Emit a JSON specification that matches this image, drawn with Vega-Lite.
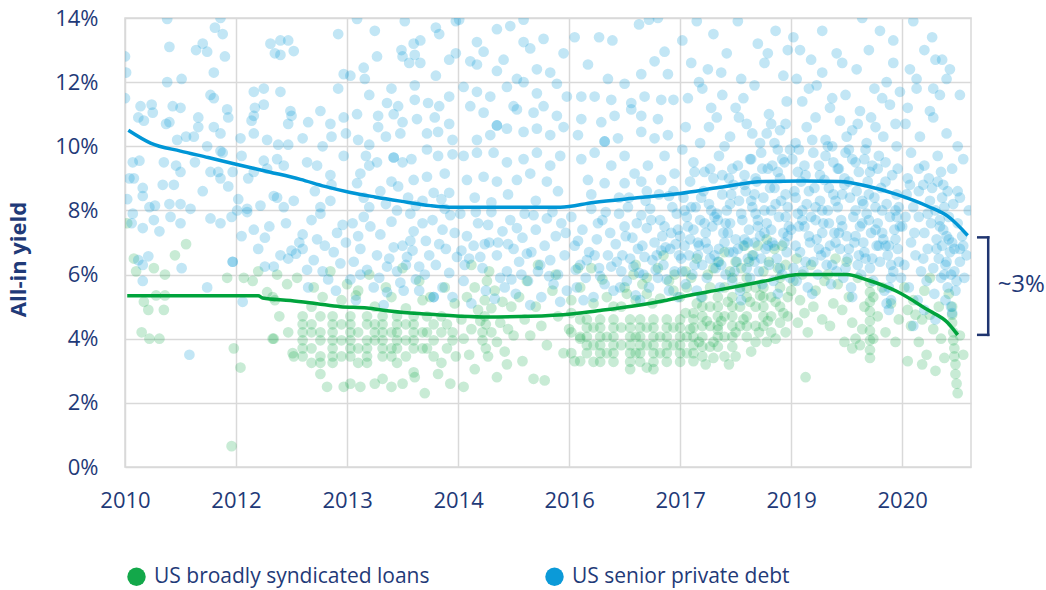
{
"$schema":"https://vega.github.io/schema/vega-lite/v6.json",
"width":846,"height":449,
"autosize":{"type":"none"},
"padding":{"left":125,"top":18,"right":75,"bottom":123},
"background":"white",
"config":{
"view":{"stroke":"#d9d9d9","strokeWidth":1.5},
"font":"Open Sans",
"axis":{"labelFont":"Open Sans","labelFontSize":22,"labelColor":"#1f3a78","domain":false,"ticks":false,"tickSize":0,"gridColor":"#d9d9d9","gridWidth":1.5,"labelFlush":false,"labelOverlap":false,"titleColor":"#1f3a78","titleFont":"Open Sans"},
"legend":{"labelFont":"Open Sans","labelFontSize":21,"labelColor":"#1f3a78","labelLimit":0,"symbolType":"circle","symbolSize":340,"symbolOpacity":1,"symbolStrokeWidth":0,"orient":"none","legendX":1,"legendY":548,"direction":"horizontal","columns":2,"columnPadding":114,"labelOffset":7,"title":null}
},
"datasets":{
"blue":[
{"t":0.01,"y":12.3},{"t":0,"y":11.5},{"t":0.14,"y":11.25},{"t":0.24,"y":11.3},{"t":0.12,"y":10.9},{"t":0.17,"y":10.8},{"t":0.25,"y":11.05},{"t":0.43,"y":11.25},{"t":0.38,"y":13.97},{"t":0.4,"y":13.1},{"t":0.38,"y":12.0},{"t":0.4,"y":10.75},{"t":0.37,"y":10.7},{"t":0.47,"y":10.2},{"t":0.07,"y":9.5},{"t":0.13,"y":9.55},{"t":0.08,"y":9.0},{"t":0.04,"y":9.0},{"t":0.35,"y":9.5},{"t":0.46,"y":9.4},{"t":0.16,"y":8.7},{"t":0.34,"y":8.8},{"t":0.44,"y":8.8},{"t":0.02,"y":8.35},{"t":0.16,"y":8.45},{"t":0.22,"y":8.1},{"t":0.27,"y":8.15},{"t":0.4,"y":8.2},{"t":0.07,"y":7.9},{"t":0.06,"y":7.6},{"t":0.26,"y":7.7},{"t":0.41,"y":7.8},{"t":0.16,"y":7.45},{"t":0.31,"y":7.35},{"t":0.16,"y":6.3},{"t":0.21,"y":6.57},{"t":0.12,"y":6.45},{"t":0.16,"y":5.8},{"t":0.0,"y":12.8},
{"t":0.86,"y":14.0},{"t":0.7,"y":13.2},{"t":0.81,"y":13.7},{"t":0.88,"y":13.5},{"t":0.64,"y":13.0},{"t":0.74,"y":12.95},{"t":0.9,"y":12.8},{"t":0.8,"y":12.3},{"t":0.51,"y":12.1},{"t":0.5,"y":11.2},{"t":0.66,"y":10.9},{"t":0.77,"y":11.6},{"t":0.8,"y":11.5},{"t":0.92,"y":11.15},{"t":0.93,"y":10.9},{"t":0.66,"y":10.6},{"t":0.8,"y":10.6},{"t":0.86,"y":10.4},{"t":0.55,"y":10.3},{"t":0.62,"y":10.3},{"t":0.74,"y":10.0},{"t":0.86,"y":9.85},{"t":0.88,"y":9.8},{"t":0.5,"y":9.2},{"t":0.63,"y":9.5},{"t":0.77,"y":9.2},{"t":0.86,"y":9.0},{"t":0.84,"y":9.2},{"t":0.97,"y":9.2},{"t":0.7,"y":8.6},{"t":0.93,"y":8.75},{"t":0.5,"y":8.2},{"t":0.59,"y":8.05},{"t":0.5,"y":7.6},{"t":0.77,"y":7.75},{"t":0.86,"y":7.6},{"t":0.96,"y":7.8},{"t":0.51,"y":6.2},{"t":0.74,"y":5.6},{"t":0.97,"y":6.4},{"t":0.97,"y":6.4},{"t":0.58,"y":3.5},
{"t":1.31,"y":13.2},{"t":1.4,"y":13.3},{"t":1.47,"y":13.3},{"t":1.52,"y":12.97},{"t":1.35,"y":12.9},{"t":1.4,"y":12.85},{"t":1.92,"y":13.5},{"t":1.97,"y":12.25},{"t":1.92,"y":11.8},{"t":1.16,"y":11.7},{"t":1.25,"y":11.8},{"t":1.4,"y":11.7},{"t":1.17,"y":11.2},{"t":1.25,"y":11.3},{"t":1.49,"y":11.1},{"t":1.5,"y":10.95},{"t":1.47,"y":10.7},{"t":1.16,"y":10.95},{"t":1.14,"y":10.8},{"t":1.65,"y":10.75},{"t":1.76,"y":11.1},{"t":1.85,"y":10.7},{"t":1.97,"y":10.9},{"t":1.16,"y":10.4},{"t":1.04,"y":10.25},{"t":1.28,"y":10.2},{"t":1.6,"y":10.25},{"t":1.38,"y":10.05},{"t":1.47,"y":10.05},{"t":1.78,"y":10.0},{"t":1.86,"y":10.3},{"t":1.99,"y":10.4},{"t":1.05,"y":9.7},{"t":1.25,"y":9.55},{"t":1.37,"y":9.6},{"t":1.64,"y":9.5},{"t":1.73,"y":9.4},{"t":1.85,"y":9.1},{"t":1.97,"y":9.7},{"t":1.16,"y":9.2},{"t":1.11,"y":9.0},{"t":1.28,"y":9.3},{"t":1.43,"y":9.4},{"t":1.71,"y":8.6},{"t":1.86,"y":8.8},
{"t":1.01,"y":8.0},{"t":1.1,"y":7.95},{"t":1.22,"y":8.15},{"t":1.05,"y":7.2},{"t":1.16,"y":7.4},{"t":1.26,"y":7.15},{"t":1.37,"y":8.4},{"t":1.34,"y":6.25},{"t":1.47,"y":6.5},{"t":1.54,"y":6.65},{"t":1.6,"y":7.25},{"t":1.73,"y":7.1},{"t":1.76,"y":7.9},{"t":1.91,"y":7.3},{"t":1.96,"y":7.55},{"t":1.64,"y":6.15},{"t":1.7,"y":6.45},{"t":1.83,"y":5.85},{"t":1.94,"y":6.35},{"t":1.06,"y":5.15},{"t":1.26,"y":6.25},{"t":1.4,"y":6.6},{"t":1.5,"y":6.75},{"t":1.6,"y":6.8},{"t":1.02,"y":8.35},{"t":1.1,"y":8.05},{"t":1.34,"y":8.45},{"t":1.43,"y":8.1},{"t":1.52,"y":8.3},{"t":1.76,"y":8.1},{"t":1.45,"y":7.6},{"t":1.57,"y":7.0},{"t":1.68,"y":7.7},{"t":1.8,"y":6.9},{"t":1.88,"y":6.7},{"t":1.99,"y":7.0},{"t":1.85,"y":8.3},{"t":1.3,"y":7.5},{"t":1.2,"y":6.8},{"t":1.65,"y":5.6},{"t":1.9,"y":5.5},{"t":1.78,"y":6.1},
{"t":2.09,"y":13.97},{"t":2.25,"y":13.6},{"t":2.52,"y":13.9},{"t":2.8,"y":13.7},{"t":2.83,"y":13.5},{"t":2.98,"y":13.9},{"t":2.15,"y":12.45},{"t":2.27,"y":12.8},{"t":2.49,"y":13.0},{"t":2.6,"y":13.2},{"t":2.66,"y":13.3},{"t":2.61,"y":12.85},{"t":2.66,"y":12.6},{"t":2.5,"y":12.8},{"t":2.56,"y":12.6},{"t":2.03,"y":12.2},{"t":2.16,"y":12.1},{"t":2.4,"y":11.8},{"t":2.61,"y":11.9},{"t":2.8,"y":12.2},{"t":2.92,"y":12.7},{"t":2.98,"y":12.9},{"t":2.2,"y":11.6},{"t":2.36,"y":11.35},{"t":2.46,"y":11.25},{"t":2.61,"y":11.45},{"t":2.73,"y":11.35},{"t":2.83,"y":11.25},{"t":2.92,"y":11.55},{"t":2.09,"y":11.0},{"t":2.28,"y":10.95},{"t":2.42,"y":11.0},{"t":2.5,"y":10.75},{"t":2.63,"y":10.85},{"t":2.79,"y":10.9},{"t":2.92,"y":10.7},{"t":2.28,"y":10.6},{"t":2.35,"y":10.3},{"t":2.48,"y":10.4},{"t":2.72,"y":10.4},{"t":2.82,"y":10.45},{"t":2.95,"y":10.2},{"t":2.1,"y":10.2},{"t":2.2,"y":10.05},{"t":2.42,"y":9.65},{"t":2.42,"y":9.65},{"t":2.17,"y":9.7},{"t":2.27,"y":9.5},{"t":2.5,"y":9.5},{"t":2.58,"y":9.6},{"t":2.72,"y":9.9},{"t":2.82,"y":9.7},{"t":2.95,"y":9.75},{"t":2.12,"y":9.15},{"t":2.2,"y":9.4},{"t":2.4,"y":8.9},{"t":2.46,"y":8.75},{"t":2.6,"y":8.95},{"t":2.72,"y":9.05},{"t":2.88,"y":9.15},{"t":2.09,"y":8.85},{"t":2.78,"y":8.55},{"t":2.92,"y":8.55},{"t":2.3,"y":8.6},{"t":2.55,"y":8.4},{"t":2.68,"y":8.3},{"t":2.15,"y":8.4},{"t":2.35,"y":8.2},{"t":2.62,"y":8.15},{"t":2.85,"y":8.35},
{"t":2.03,"y":5.85},{"t":2.06,"y":6.4},{"t":2.12,"y":6.8},{"t":2.21,"y":7.5},{"t":2.27,"y":6.6},{"t":2.36,"y":6.25},{"t":2.45,"y":6.1},{"t":2.54,"y":6.55},{"t":2.57,"y":7.05},{"t":2.51,"y":5.5},{"t":2.36,"y":5.45},{"t":2.29,"y":5.9},{"t":2.57,"y":7.9},{"t":2.68,"y":7.6},{"t":2.77,"y":7.7},{"t":2.86,"y":7.4},{"t":2.5,"y":6.9},{"t":2.59,"y":6.75},{"t":2.74,"y":6.6},{"t":2.89,"y":6.8},{"t":2.53,"y":6.3},{"t":2.65,"y":6.25},{"t":2.8,"y":6.3},{"t":2.92,"y":6.05},{"t":2.78,"y":5.3},{"t":2.78,"y":5.3},{"t":2.65,"y":5.5},{"t":2.86,"y":5.6},{"t":2.95,"y":5.3},{"t":2.1,"y":7.2},{"t":2.15,"y":7.8},{"t":2.3,"y":7.25},{"t":2.4,"y":7.65},{"t":2.42,"y":6.85},{"t":2.18,"y":6.15},{"t":2.24,"y":5.6},{"t":2.62,"y":5.85},{"t":2.71,"y":7.05},{"t":2.83,"y":6.95},{"t":2.97,"y":7.3},{"t":2.93,"y":7.85},{"t":2.08,"y":5.2},{"t":2.33,"y":5.05},{"t":2.48,"y":5.75},{"t":2.12,"y":6.0},{"t":2.6,"y":7.35},{"t":2.7,"y":6.0},{"t":2.99,"y":6.55},{"t":2.45,"y":8.0},{"t":2.2,"y":8.1},{"t":2.88,"y":8.05},{"t":2.05,"y":7.6},{"t":2.38,"y":6.5},
{"t":3.01,"y":13.95},{"t":3.17,"y":13.25},{"t":3.23,"y":12.95},{"t":3.35,"y":13.65},{"t":3.47,"y":13.75},{"t":3.59,"y":13.95},{"t":3.59,"y":13.25},{"t":3.65,"y":13.05},{"t":3.77,"y":13.35},{"t":3.11,"y":12.65},{"t":3.17,"y":12.55},{"t":3.35,"y":12.35},{"t":3.41,"y":12.7},{"t":3.53,"y":12.1},{"t":3.71,"y":12.4},{"t":3.83,"y":12.3},{"t":3.95,"y":12.9},{"t":3.05,"y":11.85},{"t":3.17,"y":11.7},{"t":3.29,"y":11.55},{"t":3.44,"y":11.85},{"t":3.59,"y":12.0},{"t":3.71,"y":11.65},{"t":3.89,"y":11.95},{"t":3.98,"y":11.55},{"t":3.11,"y":11.25},{"t":3.23,"y":11.05},{"t":3.35,"y":10.65},{"t":3.35,"y":10.65},{"t":3.5,"y":11.25},{"t":3.53,"y":11.15},{"t":3.68,"y":11.05},{"t":3.77,"y":11.25},{"t":3.89,"y":10.95},{"t":3.17,"y":10.2},{"t":3.29,"y":10.35},{"t":3.44,"y":10.55},{"t":3.59,"y":10.45},{"t":3.71,"y":10.55},{"t":3.83,"y":10.35},{"t":3.95,"y":10.6},{"t":3.05,"y":9.7},{"t":3.17,"y":9.8},{"t":3.32,"y":9.8},{"t":3.44,"y":9.5},{"t":3.59,"y":9.6},{"t":3.71,"y":9.8},{"t":3.83,"y":9.4},{"t":3.92,"y":9.7},{"t":3.08,"y":8.95},{"t":3.23,"y":9.05},{"t":3.35,"y":8.9},{"t":3.53,"y":8.95},{"t":3.65,"y":9.15},{"t":3.8,"y":8.9},{"t":3.15,"y":8.4},{"t":3.45,"y":8.5},{"t":3.7,"y":8.3},{"t":3.9,"y":8.6},{"t":3.3,"y":8.25},
{"t":3.02,"y":7.9},{"t":3.08,"y":7.2},{"t":3.1,"y":6.5},{"t":3.05,"y":5.8},{"t":3.14,"y":6.9},{"t":3.18,"y":7.6},{"t":3.22,"y":6.2},{"t":3.25,"y":5.5},{"t":3.28,"y":7.0},{"t":3.3,"y":7.95},{"t":3.35,"y":6.6},{"t":3.38,"y":5.9},{"t":3.4,"y":7.35},{"t":3.44,"y":6.1},{"t":3.47,"y":7.7},{"t":3.5,"y":6.8},{"t":3.52,"y":5.4},{"t":3.55,"y":6.4},{"t":3.58,"y":7.15},{"t":3.6,"y":7.9},{"t":3.63,"y":5.8},{"t":3.66,"y":6.7},{"t":3.7,"y":7.4},{"t":3.72,"y":6.1},{"t":3.75,"y":5.3},{"t":3.78,"y":6.9},{"t":3.8,"y":7.75},{"t":3.83,"y":6.45},{"t":3.86,"y":5.7},{"t":3.88,"y":7.2},{"t":3.9,"y":6.0},{"t":3.93,"y":7.6},{"t":3.96,"y":6.6},{"t":3.98,"y":5.5},{"t":3.12,"y":5.1},{"t":3.33,"y":5.25},{"t":3.2,"y":6.55},{"t":3.45,"y":6.95},{"t":3.57,"y":6.0},{"t":3.68,"y":7.85},{"t":3.03,"y":6.75},{"t":3.27,"y":7.55},{"t":3.42,"y":5.6},{"t":3.62,"y":6.65},{"t":3.85,"y":7.95},{"t":3.92,"y":5.15},{"t":3.16,"y":7.95},{"t":3.36,"y":7.0},{"t":3.53,"y":7.45},{"t":3.74,"y":6.3},{"t":3.06,"y":6.3},{"t":3.24,"y":6.95},{"t":3.48,"y":5.85},{"t":3.65,"y":5.05},{"t":3.82,"y":5.95},{"t":3.97,"y":7.3},
{"t":4.05,"y":13.4},{"t":4.27,"y":13.4},{"t":4.39,"y":13.3},{"t":4.63,"y":13.8},{"t":4.72,"y":13.95},{"t":4.8,"y":14.0},{"t":4.17,"y":12.55},{"t":4.35,"y":12.1},{"t":4.5,"y":11.95},{"t":4.65,"y":12.25},{"t":4.77,"y":12.65},{"t":4.86,"y":12.95},{"t":4.89,"y":12.25},{"t":4.11,"y":11.55},{"t":4.23,"y":11.55},{"t":4.38,"y":11.45},{"t":4.56,"y":11.35},{"t":4.68,"y":11.55},{"t":4.83,"y":11.45},{"t":4.94,"y":11.45},{"t":4.11,"y":10.85},{"t":4.29,"y":10.75},{"t":4.41,"y":10.95},{"t":4.56,"y":11.15},{"t":4.65,"y":10.95},{"t":4.8,"y":10.85},{"t":4.08,"y":10.35},{"t":4.32,"y":10.15},{"t":4.32,"y":10.15},{"t":4.44,"y":10.25},{"t":4.65,"y":10.45},{"t":4.77,"y":10.25},{"t":4.89,"y":10.35},{"t":4.11,"y":9.6},{"t":4.23,"y":9.8},{"t":4.38,"y":9.4},{"t":4.5,"y":9.7},{"t":4.59,"y":9.15},{"t":4.71,"y":9.4},{"t":4.86,"y":9.7},{"t":4.95,"y":9.15},{"t":4.17,"y":8.95},{"t":4.32,"y":8.85},{"t":4.5,"y":8.85},{"t":4.65,"y":8.9},{"t":4.83,"y":8.95},{"t":4.2,"y":8.5},{"t":4.45,"y":8.4},{"t":4.7,"y":8.6},{"t":4.9,"y":8.45},
{"t":4.02,"y":7.8},{"t":4.05,"y":6.9},{"t":4.07,"y":5.6},{"t":4.1,"y":6.3},{"t":4.12,"y":7.4},{"t":4.15,"y":5.9},{"t":4.18,"y":6.7},{"t":4.2,"y":8.05},{"t":4.22,"y":5.3},{"t":4.25,"y":7.1},{"t":4.27,"y":6.2},{"t":4.3,"y":7.7},{"t":4.32,"y":5.7},{"t":4.35,"y":6.6},{"t":4.37,"y":7.3},{"t":4.4,"y":5.5},{"t":4.42,"y":6.95},{"t":4.45,"y":7.9},{"t":4.47,"y":6.1},{"t":4.5,"y":7.5},{"t":4.52,"y":5.8},{"t":4.55,"y":6.5},{"t":4.57,"y":7.15},{"t":4.6,"y":5.35},{"t":4.62,"y":6.8},{"t":4.65,"y":7.85},{"t":4.67,"y":6.0},{"t":4.7,"y":7.45},{"t":4.72,"y":5.6},{"t":4.75,"y":6.45},{"t":4.77,"y":7.0},{"t":4.8,"y":5.9},{"t":4.82,"y":7.7},{"t":4.85,"y":6.3},{"t":4.87,"y":6.85},{"t":4.9,"y":5.5},{"t":4.92,"y":7.3},{"t":4.95,"y":6.1},{"t":4.97,"y":7.9},{"t":4.99,"y":6.6},{"t":4.08,"y":7.05},{"t":4.16,"y":6.45},{"t":4.28,"y":5.95},{"t":4.38,"y":6.25},{"t":4.48,"y":6.6},{"t":4.58,"y":6.25},{"t":4.68,"y":6.55},{"t":4.78,"y":6.15},{"t":4.88,"y":5.85},{"t":4.96,"y":6.95},{"t":4.13,"y":5.2},{"t":4.33,"y":7.95},{"t":4.53,"y":8.1},{"t":4.73,"y":8.05},{"t":4.93,"y":8.1},{"t":4.23,"y":6.6},{"t":4.43,"y":6.4},{"t":4.63,"y":6.05},{"t":4.83,"y":6.75},{"t":4.98,"y":5.3},{"t":4.06,"y":6.15},{"t":4.46,"y":5.6},{"t":4.86,"y":7.5},{"t":4.64,"y":5.2},{"t":4.26,"y":7.6},
{"t":4.51,"y":7.2},{"t":4.54,"y":8.4},{"t":4.61,"y":7.6},{"t":4.66,"y":6.9},{"t":4.69,"y":8.3},{"t":4.74,"y":7.7},{"t":4.79,"y":6.6},{"t":4.81,"y":8.5},{"t":4.84,"y":7.2},{"t":4.91,"y":6.8},{"t":4.94,"y":8.6},{"t":4.98,"y":7.4},
{"t":5.02,"y":13.3},{"t":5.1,"y":12.6},{"t":5.15,"y":13.9},{"t":5.2,"y":11.8},{"t":5.25,"y":12.4},{"t":5.3,"y":13.5},{"t":5.33,"y":10.9},{"t":5.38,"y":11.6},{"t":5.42,"y":12.9},{"t":5.45,"y":10.3},{"t":5.5,"y":11.2},{"t":5.52,"y":13.9},{"t":5.55,"y":12.1},{"t":5.6,"y":10.7},{"t":5.63,"y":9.6},{"t":5.67,"y":11.9},{"t":5.7,"y":13.2},{"t":5.72,"y":10.1},{"t":5.76,"y":12.6},{"t":5.8,"y":11.0},{"t":5.83,"y":9.4},{"t":5.86,"y":13.6},{"t":5.9,"y":10.5},{"t":5.93,"y":12.2},{"t":5.96,"y":11.4},{"t":5.99,"y":9.9},{"t":5.05,"y":10.6},{"t":5.12,"y":9.5},{"t":5.18,"y":10.1},{"t":5.22,"y":9.2},{"t":5.28,"y":11.2},{"t":5.35,"y":9.7},{"t":5.4,"y":10.0},{"t":5.47,"y":9.3},{"t":5.58,"y":9.1},{"t":5.65,"y":10.4},{"t":5.74,"y":9.3},{"t":5.78,"y":10.4},{"t":5.85,"y":10.1},{"t":5.88,"y":9.2},{"t":5.95,"y":10.7},{"t":5.07,"y":11.5},{"t":5.17,"y":12.0},{"t":5.37,"y":12.3},{"t":5.57,"y":11.5},{"t":5.79,"y":12.9},{"t":5.97,"y":13.0},{"t":5.44,"y":9.0},{"t":5.68,"y":9.0},{"t":5.92,"y":9.6},{"t":5.02,"y":9.9},{"t":5.26,"y":10.6},{"t":5.53,"y":10.9},{"t":5.82,"y":10.7},
{"t":5.0,"y":7.2},{"t":5.02,"y":6.1},{"t":5.03,"y":8.4},{"t":5.05,"y":5.7},{"t":5.06,"y":7.8},{"t":5.08,"y":6.6},{"t":5.09,"y":8.9},{"t":5.11,"y":6.0},{"t":5.12,"y":7.4},{"t":5.14,"y":8.1},{"t":5.15,"y":5.5},{"t":5.17,"y":6.9},{"t":5.18,"y":7.7},{"t":5.2,"y":6.3},{"t":5.21,"y":8.6},{"t":5.23,"y":7.0},{"t":5.24,"y":5.9},{"t":5.26,"y":8.2},{"t":5.27,"y":6.5},{"t":5.29,"y":7.5},{"t":5.3,"y":9.0},{"t":5.32,"y":6.2},{"t":5.33,"y":7.9},{"t":5.35,"y":6.8},{"t":5.36,"y":5.6},{"t":5.38,"y":8.5},{"t":5.39,"y":7.3},{"t":5.41,"y":6.0},{"t":5.42,"y":8.0},{"t":5.44,"y":6.7},{"t":5.45,"y":7.6},{"t":5.47,"y":5.8},{"t":5.48,"y":8.8},{"t":5.5,"y":7.1},{"t":5.51,"y":6.4},{"t":5.53,"y":8.3},{"t":5.54,"y":5.5},{"t":5.56,"y":7.7},{"t":5.57,"y":6.9},{"t":5.59,"y":8.6},{"t":5.6,"y":6.2},{"t":5.62,"y":7.4},{"t":5.63,"y":5.9},{"t":5.65,"y":8.1},{"t":5.66,"y":6.6},{"t":5.68,"y":7.9},{"t":5.69,"y":8.9},{"t":5.71,"y":6.1},{"t":5.72,"y":7.2},{"t":5.74,"y":5.7},{"t":5.75,"y":8.4},{"t":5.77,"y":6.8},{"t":5.78,"y":7.6},{"t":5.8,"y":6.3},{"t":5.81,"y":8.7},{"t":5.83,"y":7.0},{"t":5.84,"y":5.8},{"t":5.86,"y":8.2},{"t":5.87,"y":6.5},{"t":5.89,"y":7.8},{"t":5.9,"y":9.0},{"t":5.92,"y":6.0},{"t":5.93,"y":7.3},{"t":5.95,"y":8.5},{"t":5.96,"y":6.7},{"t":5.98,"y":7.5},{"t":5.99,"y":5.9},{"t":5.04,"y":6.9},{"t":5.13,"y":6.3},{"t":5.22,"y":7.6},{"t":5.31,"y":6.6},{"t":5.4,"y":7.0},{"t":5.49,"y":6.1},{"t":5.58,"y":7.1},{"t":5.67,"y":6.4},{"t":5.76,"y":7.3},{"t":5.85,"y":6.9},{"t":5.94,"y":7.0},{"t":5.1,"y":8.1},{"t":5.28,"y":8.0},{"t":5.46,"y":8.5},{"t":5.64,"y":8.3},{"t":5.82,"y":8.0},{"t":5.97,"y":8.1},{"t":5.19,"y":5.3},{"t":5.55,"y":5.2},{"t":5.88,"y":5.4},{"t":5.34,"y":7.7},{"t":5.52,"y":6.8},{"t":5.7,"y":7.7},{"t":5.9,"y":6.2},{"t":5.16,"y":7.0},{"t":5.43,"y":7.3},{"t":5.61,"y":6.5},{"t":5.79,"y":6.9},{"t":5.25,"y":6.8},{"t":5.73,"y":6.5},{"t":5.07,"y":7.5},{"t":5.37,"y":6.3},{"t":5.67,"y":7.0},{"t":5.95,"y":7.8},
{"t":5.01,"y":6.5},{"t":5.04,"y":8.0},{"t":5.09,"y":7.1},{"t":5.13,"y":9.2},{"t":5.16,"y":6.6},{"t":5.19,"y":8.4},{"t":5.23,"y":7.3},{"t":5.27,"y":9.3},{"t":5.31,"y":7.8},{"t":5.34,"y":6.4},{"t":5.38,"y":9.1},{"t":5.41,"y":7.6},{"t":5.45,"y":8.2},{"t":5.48,"y":6.7},{"t":5.52,"y":9.4},{"t":5.55,"y":7.9},{"t":5.58,"y":8.8},{"t":5.61,"y":7.0},{"t":5.64,"y":9.6},{"t":5.67,"y":8.5},{"t":5.7,"y":7.5},{"t":5.73,"y":9.8},{"t":5.76,"y":8.0},{"t":5.79,"y":9.3},{"t":5.82,"y":7.4},{"t":5.85,"y":8.7},{"t":5.88,"y":9.9},{"t":5.91,"y":8.3},{"t":5.94,"y":9.5},{"t":5.97,"y":7.2},
{"t":6.02,"y":13.4},{"t":6.05,"y":12.1},{"t":6.08,"y":13.0},{"t":6.1,"y":11.4},{"t":6.14,"y":10.6},{"t":6.18,"y":12.7},{"t":6.2,"y":9.8},{"t":6.23,"y":11.9},{"t":6.28,"y":13.6},{"t":6.28,"y":12.3},{"t":6.31,"y":10.2},{"t":6.35,"y":11.2},{"t":6.38,"y":9.5},{"t":6.41,"y":12.9},{"t":6.44,"y":10.8},{"t":6.46,"y":12.6},{"t":6.49,"y":11.6},{"t":6.52,"y":9.9},{"t":6.55,"y":10.5},{"t":6.59,"y":12.4},{"t":6.62,"y":11.1},{"t":6.64,"y":14.0},{"t":6.66,"y":9.6},{"t":6.7,"y":13.0},{"t":6.72,"y":10.9},{"t":6.75,"y":11.8},{"t":6.78,"y":9.3},{"t":6.8,"y":13.6},{"t":6.83,"y":10.3},{"t":6.86,"y":12.0},{"t":6.89,"y":11.3},{"t":6.92,"y":13.3},{"t":6.92,"y":12.6},{"t":6.95,"y":10.0},{"t":6.98,"y":11.7},{"t":6.04,"y":10.1},{"t":6.12,"y":9.4},{"t":6.22,"y":10.9},{"t":6.33,"y":10.0},{"t":6.42,"y":9.3},{"t":6.5,"y":10.3},{"t":6.58,"y":9.5},{"t":6.68,"y":10.1},{"t":6.76,"y":10.6},{"t":6.85,"y":9.5},{"t":6.96,"y":9.3},{"t":6.16,"y":11.8},{"t":6.26,"y":9.1},{"t":6.37,"y":11.5},{"t":6.48,"y":9.0},{"t":6.6,"y":10.7},{"t":6.71,"y":9.2},{"t":6.82,"y":11.5},{"t":6.94,"y":10.7},{"t":6.06,"y":9.2},
{"t":6.0,"y":7.4},{"t":6.02,"y":6.2},{"t":6.03,"y":8.6},{"t":6.05,"y":5.8},{"t":6.06,"y":7.9},{"t":6.08,"y":6.7},{"t":6.09,"y":8.9},{"t":6.11,"y":6.1},{"t":6.12,"y":7.5},{"t":6.14,"y":8.2},{"t":6.15,"y":5.6},{"t":6.17,"y":7.0},{"t":6.18,"y":7.8},{"t":6.2,"y":6.4},{"t":6.21,"y":8.7},{"t":6.23,"y":7.1},{"t":6.24,"y":6.0},{"t":6.26,"y":8.3},{"t":6.27,"y":6.6},{"t":6.29,"y":7.6},{"t":6.3,"y":8.95},{"t":6.32,"y":6.3},{"t":6.33,"y":8.0},{"t":6.35,"y":6.9},{"t":6.36,"y":5.7},{"t":6.38,"y":8.5},{"t":6.39,"y":7.3},{"t":6.41,"y":6.1},{"t":6.42,"y":8.1},{"t":6.44,"y":6.8},{"t":6.45,"y":7.7},{"t":6.47,"y":5.9},{"t":6.48,"y":8.8},{"t":6.5,"y":7.2},{"t":6.51,"y":6.5},{"t":6.53,"y":8.4},{"t":6.54,"y":5.6},{"t":6.56,"y":7.8},{"t":6.57,"y":7.0},{"t":6.59,"y":8.6},{"t":6.6,"y":6.3},{"t":6.62,"y":7.5},{"t":6.63,"y":6.0},{"t":6.65,"y":8.2},{"t":6.66,"y":6.7},{"t":6.68,"y":7.9},{"t":6.69,"y":8.9},{"t":6.71,"y":6.2},{"t":6.72,"y":7.3},{"t":6.74,"y":5.8},{"t":6.75,"y":8.4},{"t":6.77,"y":6.9},{"t":6.78,"y":7.6},{"t":6.8,"y":6.4},{"t":6.81,"y":8.7},{"t":6.83,"y":7.1},{"t":6.84,"y":5.5},{"t":6.86,"y":8.2},{"t":6.87,"y":6.6},{"t":6.89,"y":7.8},{"t":6.9,"y":5.2},{"t":6.92,"y":6.1},{"t":6.93,"y":7.4},{"t":6.95,"y":8.5},{"t":6.96,"y":6.8},{"t":6.98,"y":7.5},{"t":6.99,"y":5.9},{"t":6.04,"y":6.9},{"t":6.13,"y":6.4},{"t":6.22,"y":7.7},{"t":6.31,"y":6.7},{"t":6.4,"y":7.0},{"t":6.49,"y":6.2},{"t":6.58,"y":7.2},{"t":6.67,"y":6.5},{"t":6.76,"y":7.4},{"t":6.85,"y":6.9},{"t":6.94,"y":7.1},{"t":6.1,"y":8.0},{"t":6.28,"y":8.0},{"t":6.46,"y":8.5},{"t":6.64,"y":8.3},{"t":6.82,"y":8.0},{"t":6.97,"y":8.1},{"t":6.19,"y":5.4},{"t":6.55,"y":5.3},{"t":6.88,"y":4.9},{"t":6.34,"y":7.6},{"t":6.52,"y":6.8},{"t":6.7,"y":7.7},{"t":6.9,"y":6.3},{"t":6.16,"y":7.2},{"t":6.43,"y":7.3},{"t":6.61,"y":6.6},{"t":6.79,"y":6.9},{"t":6.25,"y":6.8},{"t":6.73,"y":6.5},{"t":6.07,"y":7.5},{"t":6.37,"y":6.3},{"t":6.65,"y":7.0},{"t":6.95,"y":7.8},{"t":6.88,"y":5.6},{"t":6.86,"y":5.1},{"t":6.9,"y":5.9},
{"t":6.01,"y":9.6},{"t":6.04,"y":8.4},{"t":6.07,"y":9.9},{"t":6.1,"y":7.7},{"t":6.13,"y":9.1},{"t":6.16,"y":8.6},{"t":6.19,"y":10.2},{"t":6.22,"y":8.1},{"t":6.25,"y":9.4},{"t":6.28,"y":7.3},{"t":6.31,"y":9.7},{"t":6.34,"y":8.7},{"t":6.37,"y":10.0},{"t":6.4,"y":8.3},{"t":6.43,"y":9.3},{"t":6.46,"y":7.5},{"t":6.49,"y":9.8},{"t":6.52,"y":8.9},{"t":6.55,"y":9.6},{"t":6.58,"y":8.0},{"t":6.61,"y":9.2},{"t":6.64,"y":7.6},{"t":6.67,"y":9.9},{"t":6.7,"y":8.5},{"t":6.73,"y":9.4},{"t":6.76,"y":8.1},{"t":6.79,"y":9.7},{"t":6.82,"y":7.3},{"t":6.85,"y":8.9},{"t":6.88,"y":6.9},{"t":6.91,"y":9.1},{"t":6.94,"y":8.0},{"t":6.97,"y":6.4},
{"t":7.1,"y":13.9},{"t":7.27,"y":13.4},{"t":7.3,"y":12.7},{"t":7.36,"y":12.7},{"t":7.43,"y":12.4},{"t":7.4,"y":12.1},{"t":7.52,"y":11.6},{"t":7.07,"y":12.4},{"t":7.13,"y":12.1},{"t":7.13,"y":11.8},{"t":7.28,"y":11.8},{"t":7.34,"y":11.6},{"t":7.25,"y":11.1},{"t":7.28,"y":10.9},{"t":7.4,"y":10.4},{"t":7.03,"y":10.7},{"t":7.08,"y":9.8},{"t":7.16,"y":10.3},{"t":7.2,"y":9.4},{"t":7.32,"y":9.7},{"t":7.45,"y":9.3},{"t":7.5,"y":10.0},{"t":7.55,"y":9.6},{"t":7.2,"y":13.0},{"t":7.05,"y":11.2},
{"t":7.0,"y":7.5},{"t":7.02,"y":6.3},{"t":7.04,"y":8.5},{"t":7.06,"y":5.6},{"t":7.08,"y":7.0},{"t":7.1,"y":8.1},{"t":7.12,"y":6.6},{"t":7.14,"y":5.2},{"t":7.15,"y":7.8},{"t":7.17,"y":6.1},{"t":7.19,"y":8.8},{"t":7.2,"y":7.3},{"t":7.22,"y":5.8},{"t":7.23,"y":6.8},{"t":7.25,"y":8.3},{"t":7.26,"y":7.6},{"t":7.28,"y":6.2},{"t":7.29,"y":5.4},{"t":7.3,"y":8.0},{"t":7.31,"y":7.1},{"t":7.32,"y":8.9},{"t":7.33,"y":6.5},{"t":7.34,"y":7.7},{"t":7.35,"y":5.9},{"t":7.36,"y":8.4},{"t":7.36,"y":6.9},{"t":7.37,"y":7.4},{"t":7.38,"y":6.0},{"t":7.38,"y":8.1},{"t":7.39,"y":5.2},{"t":7.4,"y":7.2},{"t":7.4,"y":6.4},{"t":7.41,"y":8.6},{"t":7.41,"y":5.6},{"t":7.42,"y":7.8},{"t":7.43,"y":6.7},{"t":7.44,"y":5.0},{"t":7.45,"y":7.0},{"t":7.46,"y":8.2},{"t":7.47,"y":6.1},{"t":7.48,"y":5.5},{"t":7.49,"y":5.8},{"t":7.5,"y":7.6},{"t":7.52,"y":6.8},{"t":7.52,"y":6.4},{"t":7.52,"y":8.4},{"t":7.54,"y":7.2},{"t":7.56,"y":5.9},{"t":7.58,"y":6.6},{"t":7.6,"y":8.0},{"t":7.3,"y":4.6},{"t":7.2,"y":4.9},{"t":7.1,"y":4.4},{"t":7.45,"y":4.8},{"t":7.05,"y":9.0},{"t":7.15,"y":8.6},{"t":7.24,"y":9.0},{"t":7.35,"y":9.2},
{"t":7.03,"y":7.8},{"t":7.07,"y":8.8},{"t":7.11,"y":7.3},{"t":7.15,"y":9.3},{"t":7.19,"y":6.5},{"t":7.23,"y":7.9},{"t":7.27,"y":8.7},{"t":7.31,"y":6.8},{"t":7.34,"y":7.5},{"t":7.37,"y":8.8},{"t":7.39,"y":6.3},{"t":7.42,"y":7.1},{"t":7.44,"y":6.0},{"t":7.47,"y":6.8},{"t":7.5,"y":8.6},{"t":7.55,"y":6.9}
],
"green":[
{"t":0.08,"y":6.5},{"t":0.1,"y":6.1},{"t":0.26,"y":6.2},{"t":0.36,"y":6.0},{"t":0.35,"y":4.9},{"t":0.21,"y":4.9},{"t":0.28,"y":5.35},{"t":0.36,"y":5.35},{"t":0.17,"y":5.15},{"t":0.15,"y":4.2},{"t":0.22,"y":4.0},{"t":0.31,"y":4.0},{"t":0.98,"y":3.7},{"t":1.04,"y":3.1},{"t":0.96,"y":0.65},{"t":0.92,"y":5.9},{"t":1.07,"y":5.9},{"t":1.15,"y":5.8},{"t":1.35,"y":5.2},{"t":1.34,"y":4.0},{"t":1.39,"y":4.7},{"t":1.47,"y":4.2},{"t":1.52,"y":3.45},{"t":0.45,"y":6.6},{"t":1.2,"y":6.1},{"t":1.28,"y":5.45},{"t":0.02,"y":7.6},{"t":0.55,"y":6.95},
{"t":1.6,"y":4.7},{"t":1.6,"y":4.45},{"t":1.6,"y":4.2},{"t":1.6,"y":3.95},{"t":1.6,"y":3.7},{"t":1.6,"y":3.45},{"t":1.68,"y":4.45},{"t":1.68,"y":4.2},{"t":1.68,"y":3.7},{"t":1.68,"y":3.25},{"t":1.68,"y":5.0},{"t":1.76,"y":4.7},{"t":1.76,"y":4.2},{"t":1.76,"y":3.95},{"t":1.76,"y":3.45},{"t":1.76,"y":3.25},{"t":1.76,"y":2.9},{"t":1.87,"y":4.7},{"t":1.87,"y":4.45},{"t":1.87,"y":4.2},{"t":1.87,"y":3.95},{"t":1.87,"y":3.7},{"t":1.87,"y":3.45},{"t":1.87,"y":3.25},{"t":1.95,"y":4.45},{"t":1.95,"y":3.95},{"t":1.95,"y":3.45},{"t":1.95,"y":5.2},{"t":2.03,"y":4.7},{"t":2.03,"y":4.45},{"t":2.03,"y":4.2},{"t":2.03,"y":3.95},{"t":2.03,"y":3.7},{"t":2.03,"y":3.45},{"t":2.03,"y":2.6},{"t":2.1,"y":4.2},{"t":2.1,"y":3.7},{"t":2.1,"y":3.25},{"t":2.1,"y":5.5},{"t":2.18,"y":4.7},{"t":2.18,"y":4.45},{"t":2.18,"y":3.95},{"t":2.18,"y":3.7},{"t":2.18,"y":3.45},{"t":2.18,"y":3.25},{"t":2.25,"y":4.45},{"t":2.25,"y":4.2},{"t":2.25,"y":3.95},{"t":2.25,"y":5.0},{"t":2.32,"y":4.7},{"t":2.32,"y":4.45},{"t":2.32,"y":4.2},{"t":2.32,"y":3.95},{"t":2.32,"y":3.7},{"t":2.32,"y":3.45},{"t":2.32,"y":2.75},{"t":2.4,"y":4.2},{"t":2.4,"y":3.7},{"t":2.4,"y":3.45},{"t":2.4,"y":5.3},{"t":2.45,"y":4.7},{"t":2.45,"y":4.45},{"t":2.45,"y":4.2},{"t":2.45,"y":3.95},{"t":2.45,"y":3.7},{"t":2.45,"y":3.25},{"t":2.53,"y":4.45},{"t":2.53,"y":3.95},{"t":2.53,"y":3.45},{"t":2.53,"y":4.95},{"t":2.6,"y":4.7},{"t":2.6,"y":4.45},{"t":2.6,"y":4.2},{"t":2.6,"y":3.95},{"t":2.6,"y":3.7},{"t":2.6,"y":2.95},{"t":2.68,"y":4.2},{"t":2.68,"y":3.7},{"t":2.68,"y":5.2},
{"t":1.82,"y":2.5},{"t":1.97,"y":2.5},{"t":2.12,"y":2.5},{"t":2.25,"y":2.6},{"t":2.4,"y":2.5},{"t":2.5,"y":2.6},{"t":2.61,"y":2.8},{"t":1.51,"y":3.55},{"t":1.33,"y":4.0},{"t":1.37,"y":6.0},{"t":1.46,"y":5.7},{"t":1.33,"y":5.3},{"t":1.55,"y":5.9},{"t":1.7,"y":5.6},{"t":1.85,"y":6.1},{"t":2.0,"y":5.7},{"t":2.2,"y":6.0},{"t":2.35,"y":5.6},{"t":2.5,"y":6.2},{"t":2.65,"y":5.8},{"t":1.78,"y":5.3},{"t":2.08,"y":5.35},
{"t":2.72,"y":4.7},{"t":2.72,"y":4.2},{"t":2.72,"y":3.7},{"t":2.78,"y":4.45},{"t":2.78,"y":3.95},{"t":2.78,"y":3.45},{"t":2.85,"y":4.7},{"t":2.85,"y":4.2},{"t":2.85,"y":3.25},{"t":2.9,"y":4.45},{"t":2.9,"y":3.7},{"t":2.95,"y":4.2},{"t":2.95,"y":3.95},{"t":2.98,"y":3.45},{"t":2.75,"y":5.3},{"t":2.88,"y":5.6},{"t":2.97,"y":5.1},{"t":2.82,"y":2.9},{"t":2.93,"y":2.6},{"t":2.7,"y":2.3},
{"t":3.03,"y":4.6},{"t":3.05,"y":4.0},{"t":3.08,"y":5.3},{"t":3.1,"y":3.5},{"t":3.12,"y":4.3},{"t":3.15,"y":5.6},{"t":3.18,"y":4.9},{"t":3.2,"y":4.55},{"t":3.22,"y":4.2},{"t":3.22,"y":3.95},{"t":3.24,"y":5.2},{"t":3.24,"y":4.7},{"t":3.25,"y":3.7},{"t":3.25,"y":4.45},{"t":3.26,"y":5.8},{"t":3.27,"y":3.45},{"t":3.3,"y":4.95},{"t":3.3,"y":4.2},{"t":3.33,"y":5.5},{"t":3.35,"y":3.9},{"t":3.38,"y":4.5},{"t":3.4,"y":5.15},{"t":3.42,"y":3.6},{"t":3.45,"y":4.3},{"t":3.48,"y":5.0},{"t":3.5,"y":4.1},{"t":3.15,"y":3.05},{"t":3.35,"y":2.8},{"t":3.44,"y":3.2},{"t":3.05,"y":2.5},{"t":3.28,"y":6.1},{"t":3.12,"y":6.3},
{"t":3.55,"y":5.3},{"t":3.6,"y":4.6},{"t":3.65,"y":4.1},{"t":3.7,"y":5.0},{"t":3.75,"y":4.4},{"t":3.8,"y":3.8},{"t":3.85,"y":5.5},{"t":3.9,"y":4.7},{"t":3.95,"y":3.55},{"t":4.0,"y":4.3},{"t":3.58,"y":3.3},{"t":3.78,"y":2.7},{"t":3.68,"y":2.75},{"t":3.62,"y":5.8},{"t":3.88,"y":6.0},{"t":3.72,"y":6.3},{"t":4.02,"y":5.2},{"t":4.05,"y":3.3},{"t":4.1,"y":4.0},{"t":4.08,"y":6.2},
{"t":4.02,"y":4.2},{"t":4.02,"y":3.55},{"t":4.02,"y":4.8},{"t":4.1,"y":4.6},{"t":4.1,"y":4.06},{"t":4.1,"y":3.3},{"t":4.16,"y":4.6},{"t":4.16,"y":4.35},{"t":4.16,"y":4.06},{"t":4.16,"y":3.8},{"t":4.16,"y":3.55},{"t":4.22,"y":4.35},{"t":4.22,"y":3.8},{"t":4.22,"y":3.28},{"t":4.22,"y":5.1},{"t":4.28,"y":4.6},{"t":4.28,"y":4.35},{"t":4.28,"y":4.06},{"t":4.28,"y":3.8},{"t":4.28,"y":3.55},{"t":4.28,"y":3.28},{"t":4.34,"y":4.06},{"t":4.34,"y":3.55},{"t":4.34,"y":5.3},{"t":4.4,"y":4.6},{"t":4.4,"y":4.35},{"t":4.4,"y":4.06},{"t":4.4,"y":3.8},{"t":4.4,"y":3.55},{"t":4.4,"y":3.28},{"t":4.47,"y":4.35},{"t":4.47,"y":3.8},{"t":4.47,"y":5.0},{"t":4.55,"y":4.6},{"t":4.55,"y":4.35},{"t":4.55,"y":4.06},{"t":4.55,"y":3.8},{"t":4.55,"y":3.55},{"t":4.55,"y":3.28},{"t":4.55,"y":3.05},{"t":4.6,"y":4.06},{"t":4.6,"y":3.55},{"t":4.6,"y":5.2},{"t":4.64,"y":4.6},{"t":4.64,"y":4.35},{"t":4.64,"y":4.06},{"t":4.64,"y":3.8},{"t":4.64,"y":3.55},{"t":4.64,"y":3.28},{"t":4.7,"y":4.35},{"t":4.7,"y":3.8},{"t":4.7,"y":3.1},{"t":4.7,"y":5.4},{"t":4.76,"y":4.6},{"t":4.76,"y":4.35},{"t":4.76,"y":4.06},{"t":4.76,"y":3.8},{"t":4.76,"y":3.55},{"t":4.76,"y":3.28},{"t":4.76,"y":3.05},{"t":4.82,"y":4.06},{"t":4.82,"y":3.55},{"t":4.82,"y":5.25},{"t":4.88,"y":4.6},{"t":4.88,"y":4.35},{"t":4.88,"y":4.06},{"t":4.88,"y":3.8},{"t":4.88,"y":3.55},{"t":4.88,"y":3.28},{"t":4.94,"y":4.35},{"t":4.94,"y":3.8},{"t":4.94,"y":5.5},{"t":5.0,"y":4.6},{"t":5.0,"y":4.35},{"t":5.0,"y":4.06},{"t":5.0,"y":3.8},{"t":5.0,"y":3.55},{"t":5.0,"y":3.28},{"t":5.06,"y":4.06},{"t":5.06,"y":3.55},{"t":5.06,"y":5.6},{"t":5.12,"y":4.8},{"t":5.12,"y":4.6},{"t":5.12,"y":4.35},{"t":5.12,"y":4.06},{"t":5.12,"y":3.8},{"t":5.12,"y":3.55},{"t":5.12,"y":3.3},
{"t":4.1,"y":5.6},{"t":4.3,"y":5.85},{"t":4.5,"y":5.6},{"t":4.7,"y":5.9},{"t":4.9,"y":5.8},{"t":5.05,"y":6.1},{"t":4.2,"y":6.2},{"t":4.6,"y":6.3},{"t":4.85,"y":6.6},{"t":4.4,"y":5.0},{"t":4.75,"y":5.1},{"t":5.0,"y":5.3},
{"t":4.52,"y":5.4},{"t":4.58,"y":6.0},{"t":4.66,"y":5.7},{"t":4.8,"y":6.2},{"t":4.95,"y":6.0},{"t":5.1,"y":5.9},{"t":5.15,"y":6.5},{"t":5.25,"y":6.0},{"t":5.35,"y":6.4},{"t":5.45,"y":6.1},{"t":5.55,"y":6.2},{"t":5.62,"y":6.4},{"t":5.7,"y":6.9},{"t":5.8,"y":6.4},{"t":5.88,"y":6.2},{"t":5.92,"y":6.9},{"t":5.23,"y":3.2},{"t":5.3,"y":3.4},{"t":5.44,"y":3.2},{"t":5.5,"y":3.45},{"t":5.64,"y":3.6},{"t":5.78,"y":3.9},{"t":5.86,"y":4.0},{"t":5.95,"y":4.2},
{"t":5.05,"y":4.8},{"t":5.09,"y":4.3},{"t":5.15,"y":5.1},{"t":5.17,"y":3.9},{"t":5.24,"y":4.55},{"t":5.3,"y":3.9},{"t":5.37,"y":4.55},{"t":5.43,"y":5.15},{"t":5.5,"y":4.2},{"t":5.57,"y":4.6},{"t":5.63,"y":5.15},{"t":5.71,"y":4.2},{"t":5.72,"y":5.35},{"t":5.79,"y":4.55},{"t":5.86,"y":5.15},{"t":5.93,"y":4.8},{"t":6.0,"y":5.5},{"t":6.06,"y":4.5},{"t":6.1,"y":6.0},{"t":6.2,"y":5.0},
{"t":5.2,"y":5.3},{"t":5.2,"y":5.0},{"t":5.2,"y":4.7},{"t":5.2,"y":4.4},{"t":5.2,"y":4.06},{"t":5.2,"y":3.75},{"t":5.2,"y":3.45},{"t":5.27,"y":5.6},{"t":5.27,"y":5.0},{"t":5.27,"y":4.4},{"t":5.27,"y":3.75},{"t":5.34,"y":5.3},{"t":5.34,"y":5.0},{"t":5.34,"y":4.7},{"t":5.34,"y":4.4},{"t":5.34,"y":4.28},{"t":5.34,"y":4.06},{"t":5.34,"y":3.75},{"t":5.4,"y":5.6},{"t":5.4,"y":4.7},{"t":5.4,"y":4.06},{"t":5.4,"y":3.45},{"t":5.47,"y":5.9},{"t":5.47,"y":5.3},{"t":5.47,"y":5.0},{"t":5.47,"y":4.7},{"t":5.47,"y":4.4},{"t":5.47,"y":4.06},{"t":5.47,"y":3.75},{"t":5.54,"y":5.6},{"t":5.54,"y":5.0},{"t":5.54,"y":4.4},{"t":5.6,"y":5.9},{"t":5.6,"y":5.6},{"t":5.6,"y":5.3},{"t":5.6,"y":4.7},{"t":5.6,"y":4.4},{"t":5.6,"y":4.06},{"t":5.68,"y":5.6},{"t":5.68,"y":5.0},{"t":5.68,"y":4.4},{"t":5.68,"y":3.9},{"t":5.75,"y":6.1},{"t":5.75,"y":5.6},{"t":5.75,"y":5.3},{"t":5.75,"y":5.0},{"t":5.75,"y":4.7},{"t":5.75,"y":4.4},{"t":5.82,"y":5.3},{"t":5.82,"y":4.7},{"t":5.82,"y":4.2},{"t":5.9,"y":5.9},{"t":5.9,"y":5.6},{"t":5.9,"y":5.0},{"t":5.9,"y":4.5},{"t":5.97,"y":5.3},{"t":5.97,"y":4.7},
{"t":5.3,"y":6.2},{"t":5.5,"y":6.4},{"t":5.65,"y":6.6},{"t":5.85,"y":6.8},{"t":5.95,"y":6.3},{"t":5.4,"y":6.7},{"t":5.78,"y":7.1},{"t":5.58,"y":6.9},
{"t":6.02,"y":5.8},{"t":6.08,"y":5.2},{"t":6.12,"y":4.8},{"t":6.18,"y":6.3},{"t":6.22,"y":5.5},{"t":6.28,"y":4.6},{"t":6.33,"y":6.0},{"t":6.38,"y":5.1},{"t":6.42,"y":5.7},{"t":6.46,"y":4.9},{"t":6.5,"y":6.4},{"t":6.52,"y":5.3},{"t":6.55,"y":4.5},{"t":6.58,"y":4.0},{"t":6.6,"y":5.9},{"t":6.62,"y":3.8},{"t":6.64,"y":4.3},{"t":6.66,"y":5.0},{"t":6.71,"y":5.75},{"t":6.71,"y":5.45},{"t":6.71,"y":5.15},{"t":6.71,"y":4.85},{"t":6.71,"y":4.55},{"t":6.71,"y":4.25},{"t":6.71,"y":3.95},{"t":6.71,"y":3.65},{"t":6.71,"y":3.4},{"t":6.74,"y":5.3},{"t":6.74,"y":4.0},{"t":6.78,"y":4.7},{"t":6.82,"y":5.6},{"t":6.85,"y":4.2},{"t":6.9,"y":5.1},{"t":6.94,"y":3.9},{"t":6.97,"y":4.6},{"t":6.15,"y":4.2},{"t":6.35,"y":4.4},{"t":6.48,"y":3.9},{"t":6.13,"y":2.8},{"t":6.55,"y":3.7},{"t":6.05,"y":6.5},{"t":6.4,"y":6.5},{"t":6.3,"y":5.8},
{"t":7.02,"y":5.6},{"t":7.05,"y":4.9},{"t":7.08,"y":4.4},{"t":7.1,"y":5.2},{"t":7.12,"y":4.75},{"t":7.15,"y":3.9},{"t":7.18,"y":4.6},{"t":7.2,"y":5.5},{"t":7.22,"y":3.5},{"t":7.25,"y":4.75},{"t":7.28,"y":4.3},{"t":7.3,"y":3.0},{"t":7.33,"y":5.0},{"t":7.35,"y":4.0},{"t":7.38,"y":3.4},{"t":7.45,"y":5.0},{"t":7.45,"y":4.75},{"t":7.45,"y":4.5},{"t":7.46,"y":4.2},{"t":7.46,"y":3.95},{"t":7.47,"y":3.7},{"t":7.47,"y":3.45},{"t":7.48,"y":3.2},{"t":7.48,"y":2.9},{"t":7.49,"y":2.6},{"t":7.5,"y":2.3},{"t":7.52,"y":4.1},{"t":7.55,"y":3.5},{"t":7.42,"y":5.4},{"t":7.18,"y":3.2},{"t":7.05,"y":3.3},{"t":7.25,"y":5.9}
],
"blueLine":[
{"t":0.03,"y":10.5},{"t":0.23,"y":10.1},{"t":0.5,"y":9.85},{"t":0.75,"y":9.65},{"t":1.0,"y":9.44},{"t":1.3,"y":9.2},{"t":1.58,"y":8.97},{"t":1.8,"y":8.75},{"t":2.03,"y":8.56},{"t":2.25,"y":8.42},{"t":2.48,"y":8.29},{"t":2.75,"y":8.15},{"t":2.95,"y":8.1},{"t":3.4,"y":8.1},{"t":3.92,"y":8.1},{"t":4.22,"y":8.25},{"t":4.64,"y":8.4},{"t":5.0,"y":8.53},{"t":5.36,"y":8.72},{"t":5.75,"y":8.9},{"t":6.1,"y":8.92},{"t":6.44,"y":8.9},{"t":6.68,"y":8.76},{"t":6.95,"y":8.5},{"t":7.23,"y":8.13},{"t":7.41,"y":7.82},{"t":7.59,"y":7.22}
],
"greenLine":[
{"t":0.02,"y":5.34},{"t":1.2,"y":5.34},{"t":1.24,"y":5.27},{"t":1.49,"y":5.19},{"t":1.73,"y":5.09},{"t":1.94,"y":5.0},{"t":2.18,"y":4.96},{"t":2.36,"y":4.87},{"t":2.57,"y":4.8},{"t":2.81,"y":4.75},{"t":3.23,"y":4.68},{"t":3.65,"y":4.7},{"t":4.04,"y":4.78},{"t":4.28,"y":4.88},{"t":4.58,"y":5.02},{"t":4.88,"y":5.2},{"t":5.05,"y":5.33},{"t":5.36,"y":5.53},{"t":5.75,"y":5.79},{"t":6.08,"y":6.0},{"t":6.5,"y":6.0},{"t":6.68,"y":5.84},{"t":6.95,"y":5.48},{"t":7.23,"y":4.9},{"t":7.41,"y":4.5},{"t":7.5,"y":4.12}
],
"bracket":[
{"t":7.685,"t2":7.775,"y":7.16,"y2":7.16},{"t":7.685,"t2":7.775,"y":4.12,"y2":4.12},{"t":7.775,"t2":7.775,"y":7.16,"y2":4.12}
],
"note":[{"t":7.86,"y":5.69,"label":"~3%"}]
},
"layer":[
{"data":{"name":"green"},"mark":{"type":"circle","size":115,"opacity":0.23,"clip":true},
 "encoding":{
  "x":{"field":"t","type":"quantitative","scale":{"domain":[0,7.62],"nice":false,"zero":false},
       "axis":{"values":[0,1,2,3,4,5,6,7],"labelExpr":"['2010','2012','2013','2014','2016','2017','2019','2020'][datum.value]","title":null,"labelPadding":23,"grid":true}},
  "y":{"field":"y","type":"quantitative","scale":{"domain":[0,14],"nice":false,"zero":true},
       "axis":{"values":[0,2,4,6,8,10,12,14],"labelExpr":"datum.value + '%'","title":"All-in yield","titleFontSize":22,"titleFontWeight":"bold","labelPadding":27,"titleX":-107,"titleY":241,"titleBaseline":"middle","titleAngle":-90,"grid":true}},
  "color":{"datum":"US broadly syndicated loans","type":"nominal","scale":{"domain":["US broadly syndicated loans","US senior private debt"],"range":["#13a84a","#0b9ad8"]}}
 }},
{"data":{"name":"blue"},"mark":{"type":"circle","size":115,"opacity":0.25,"clip":true},
 "encoding":{
  "x":{"field":"t","type":"quantitative"},
  "y":{"field":"y","type":"quantitative"},
  "color":{"datum":"US senior private debt","type":"nominal"}
 }},
{"data":{"name":"greenLine"},"mark":{"type":"line","color":"#00a33c","strokeWidth":3.5,"interpolate":"monotone"},
 "encoding":{"x":{"field":"t","type":"quantitative"},"y":{"field":"y","type":"quantitative"}}},
{"data":{"name":"blueLine"},"mark":{"type":"line","color":"#0096d6","strokeWidth":3.5,"interpolate":"monotone"},
 "encoding":{"x":{"field":"t","type":"quantitative"},"y":{"field":"y","type":"quantitative"}}},
{"data":{"name":"bracket"},"mark":{"type":"rule","color":"#1f3570","strokeWidth":2.5,"strokeCap":"square"},
 "encoding":{"x":{"field":"t","type":"quantitative"},"x2":{"field":"t2"},"y":{"field":"y","type":"quantitative"},"y2":{"field":"y2"}}},
{"data":{"name":"note"},"mark":{"type":"text","align":"left","baseline":"middle","fontSize":24,"font":"Open Sans","color":"#1f3a78"},
 "encoding":{"x":{"field":"t","type":"quantitative"},"y":{"field":"y","type":"quantitative"},"text":{"field":"label"}}}
]
}
